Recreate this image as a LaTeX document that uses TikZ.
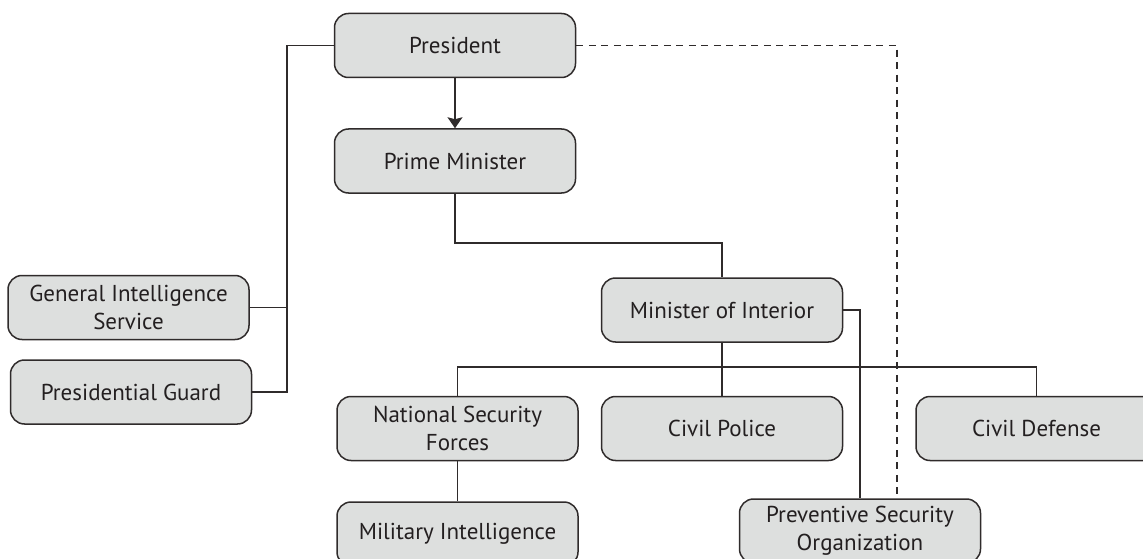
\documentclass[tikz,border=0pt]{standalone}
\usepackage{fontspec}
\setmainfont{PT Sans}
\usetikzlibrary{positioning, arrows.meta}
\definecolor{boxfill}{HTML}{DDDFDE}
\definecolor{boxline}{HTML}{2F2B2B}
\definecolor{inktext}{HTML}{231F20}

\begin{document}
\begin{tikzpicture}[
         x=1pt, y=1pt,
         unit/.style={rectangle, rounded corners=14pt, draw=boxline, fill=boxfill,
            line width=1.5pt, minimum width=241pt, minimum height=64pt, inner sep=2pt,
            align=center, text=inktext, font=\fontsize{23}{28}\selectfont},
         link/.style={draw=boxline, line width=1.2pt},
         oversight/.style={link, dash pattern=on 7pt off 5.5pt}
      ]
         \useasboundingbox (0,0) rectangle (1143,-559);

         % Nodes for offices
         \node[unit] (president) at (455,-45.5) {President};
         \node[unit] (primeminister) [below=50pt of president] {Prime Minister};
         \node[unit] (interior) at (722,-310) {Minister of Interior};
         \node[unit] (police) [below=53pt of interior] {Civil Police};
         \node[unit] (nsf) [left=22pt of police] {National Security\\Forces};
         \node[unit] (mi) [below=40pt of nsf] {Military Intelligence};
         \node[unit] (defense) [right=72pt of police] {Civil Defense};
         \node[unit] (pso) at (860,-531) {Preventive Security\\Organization};
         \node[unit] (gis) at (128.5,-307.5) {General Intelligence\\Service};
         \node[unit] (guard) [below=19pt of gis, xshift=2.5pt] {Presidential Guard};

         % Bends of the connectors
         \coordinate (staffbus) at (287,0);
         \coordinate (pmbend) at (0,-243);
         \coordinate (bus) at (0,-367);

         % Presidential staff
         \draw[link] (president.west) -- (president.west -| staffbus) |- (guard.east);
         \draw[link] (gis.east) -- (gis.east -| staffbus);

         % Chain of command
         \draw[link, -{Stealth[length=11pt, width=15pt, inset=2pt]}] (president) -- (primeminister);
         \draw[link] (primeminister.south) -- (primeminister.south |- pmbend) -| (interior.north);
         \draw[link] (interior.south) -- (police.north);
         \draw[link] (nsf.north) -- (nsf.north |- bus) -| (defense.north);
         \draw[link] (nsf) -- (mi);
         \draw[link] (interior.east) -| (pso.north);

         % Direct line to the president
         \draw[oversight] (president.east) -| ([xshift=37pt]pso.north);
      \end{tikzpicture}
\end{document}
